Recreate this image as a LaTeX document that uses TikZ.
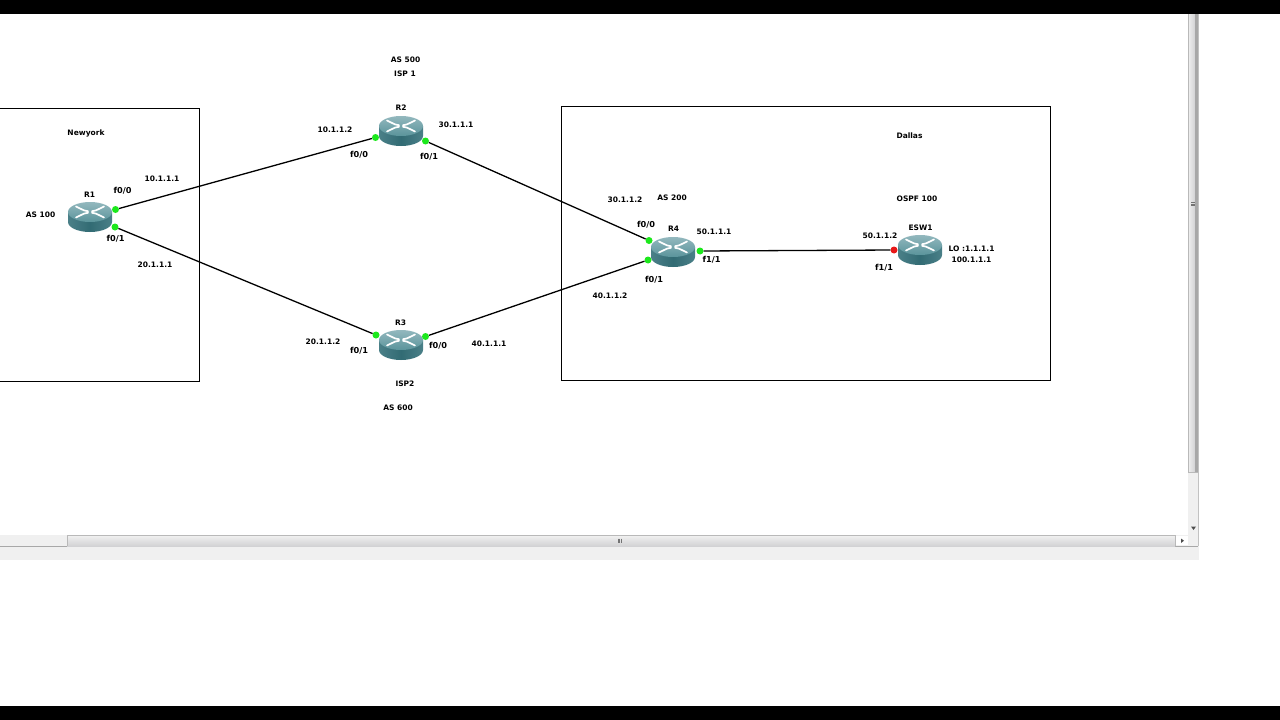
\documentclass[tikz,border=0pt]{standalone}
\usepackage{fontspec}
\setmainfont{DejaVu Sans}
\usetikzlibrary{shadings}
\definecolor{routertop}{HTML}{93B8BE}
\definecolor{routermid}{HTML}{5A949B}
\definecolor{routerside}{HTML}{4A8088}
\definecolor{routerdark}{HTML}{2E6770}
\definecolor{portgreen}{HTML}{1CE81C}
\definecolor{portred}{HTML}{E81818}
\definecolor{barlight}{HTML}{F0F0F0}
\definecolor{barmid}{HTML}{D2D2D4}
\definecolor{bardark}{HTML}{A8A8A8}
\tikzset{
  lbl/.style={inner sep=0pt,font=\bfseries\fontsize{7.5}{9}\selectfont,text=black},
  wide/.style={lbl,font=\bfseries\fontsize{8.2}{9}\selectfont},
  port/.style={circle,inner sep=0pt,minimum size=7pt,fill=#1,draw=none},
  port/.default=portgreen,
  link/.style={draw=black,line width=1.3pt},
  area/.style={draw=black,line width=1pt},
  router/.pic={
    \shade[left color=routerside,right color=routerside,middle color=routerdark!85!routerside]
      (-22,-5) -- (-22,5) arc[start angle=180,end angle=0,x radius=22,y radius=10] -- (22,-5) -- cycle;
    \shade[top color=routertop,bottom color=routermid]
      (0,-5) ellipse[x radius=22,y radius=10];
    \foreach \sx/\sy in {1/1,-1/1,1/-1,-1/-1}{
      \draw[white,line width=1.7pt,line cap=round]
        ({\sx*2},{-5+\sy*0.8}) -- ({\sx*6},{-5+\sy*1.6}) -- ({\sx*14},{-5+\sy*5.5});
    }
  }
}
\begin{document}
\begin{tikzpicture}[x=1pt,y=-1pt]
\useasboundingbox (0,0) rectangle (1280,720);
\fill[white] (0,0) rectangle (1280,720);
% window chrome
\fill[barlight] (0,535) rectangle (1199,560);
\fill[barlight] (1188,14) rectangle (1199,546);
\fill[white] (1176,536) rectangle (1188,545);
\draw[bardark,line width=.6pt] (0,546) -- (1198,546);
\draw[bardark!70,line width=.5pt] (1198.5,14) -- (1198.5,546);
\shade[top color=barlight,bottom color=barmid] (67,535.5) rectangle (1175,546);
\draw[bardark!80,line width=.5pt] (67,546) -- (67,535.5) -- (1175,535.5) -- (1175,546);
\shade[left color=barlight,right color=barmid] (1188,14) rectangle (1195,472);
\fill[bardark] (1195,14) rectangle (1198,472);
\draw[bardark!80,line width=.5pt] (1188,14) -- (1188,472) -- (1198,472);
\foreach \k in {0,1,2}{\draw[black!55,line width=.5pt] (1191,{202.5+\k*1.6}) -- (1195,{202.5+\k*1.6});
  \draw[black!55,line width=.5pt] ({618+\k*1.6},538.5) -- ({618+\k*1.6},542.5);}
\fill[black!70] (1191,526.5) -- (1196,526.5) -- (1193.5,530) -- cycle;
\fill[black!70] (1181,538.5) -- (1181,543) -- (1184,540.7) -- cycle;
% black bars
\fill[black] (0,0) rectangle (1280,14);
\fill[black] (0,706) rectangle (1280,720);
% areas
\draw[area] (-5,108.5) -- (199.5,108.5) -- (199.5,381) -- (-5,381);
\draw[area] (561.5,106.5) rectangle (1050,380.5);
% routers
\pic at (90,217) {router};
\pic at (401,131) {router};
\pic at (401,345) {router};
\pic at (673,252) {router};
\pic at (920,250) {router};
% ports
\node[port] (r1a) at (115.5,209.5) {};
\node[port] (r1b) at (115,227) {};
\node[port] (r2a) at (375.5,137.5) {};
\node[port] (r2b) at (425.5,141) {};
\node[port] (r3b) at (376,335) {};
\node[port] (r3a) at (425.5,336.5) {};
\node[port] (r4a) at (649,240.5) {};
\node[port] (r4b) at (648,260) {};
\node[port] (r4c) at (700,251) {};
\node[port=portred] (e1) at (894,250) {};
% links
\draw[link] (r1a) -- (r2a);
\draw[link] (r1b) -- (r3b);
\draw[link] (r2b) -- (r4a);
\draw[link] (r3a) -- (r4b);
\draw[link] (r4c) -- (e1);
% labels
\node[lbl] (t1) at (86,133) {Newyork};
\node[lbl] (t2) at (40.5,215) {AS 100};
\node[lbl] (t3) at (89.5,194.5) {R1};
\node[wide] (t4) at (122.5,191) {f0/0};
\node[wide] (t5) at (115.5,239) {f0/1};
\node[lbl] (t6) at (162,178.5) {10.1.1.1};
\node[lbl] (t7) at (155,264.5) {20.1.1.1};
\node[lbl] (t8) at (405.5,59.5) {AS 500};
\node[lbl] (t9) at (405,74) {ISP 1};
\node[lbl] (t10) at (401,108) {R2};
\node[lbl] (t11) at (335,130) {10.1.1.2};
\node[lbl] (t12) at (456,125) {30.1.1.1};
\node[wide] (t13) at (359,155) {f0/0};
\node[wide] (t14) at (429,157) {f0/1};
\node[lbl] (t15) at (400.5,323) {R3};
\node[lbl] (t16) at (323,341.5) {20.1.1.2};
\node[wide] (t17) at (359,350.5) {f0/1};
\node[wide] (t18) at (438,345.5) {f0/0};
\node[lbl] (t19) at (489,343.5) {40.1.1.1};
\node[lbl] (t20) at (405,384) {ISP2};
\node[lbl] (t21) at (398,408) {AS 600};
\node[lbl] (t22) at (625,200) {30.1.1.2};
\node[lbl] (t23) at (672,197.5) {AS 200};
\node[wide] (t24) at (646,225) {f0/0};
\node[lbl] (t25) at (673.5,229) {R4};
\node[lbl] (t26) at (714,231.5) {50.1.1.1};
\node[wide] (t27) at (711.5,260) {f1/1};
\node[wide] (t28) at (654,279.5) {f0/1};
\node[lbl] (t29) at (610,295.5) {40.1.1.2};
\node[lbl] (t30) at (909.5,136) {Dallas};
\node[lbl] (t31) at (917,198.5) {OSPF 100};
\node[lbl] (t32) at (920.5,227.5) {ESW1};
\node[lbl] (t33) at (880,235.5) {50.1.1.2};
\node[wide] (t34) at (884,268) {f1/1};
\node[lbl] (t35) at (971.5,249) {LO :1.1.1.1};
\node[lbl] (t36) at (971.5,259.5) {100.1.1.1};
\end{tikzpicture}
\end{document}
